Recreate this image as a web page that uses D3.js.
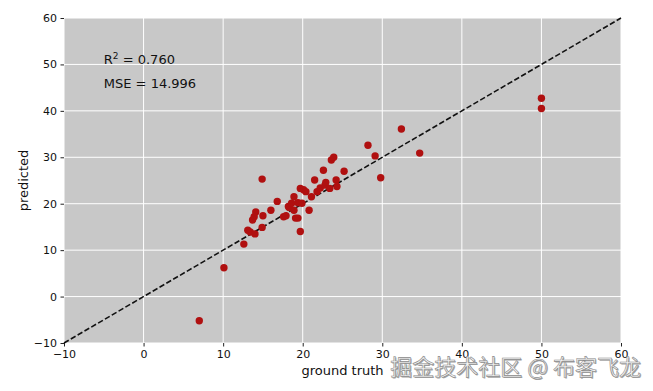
<!DOCTYPE html>
<html>
<head>
<meta charset="utf-8">
<script src="https://cdn.jsdelivr.net/npm/d3@7"></script>
<style>
  body { margin: 0; background: #fff; }
  svg { display: block; font-family: "DejaVu Sans", sans-serif; }
</style>
</head>
<body>
<div id="chart"></div>
<script>
// ground truth vs predicted scatter
const truth = [7.0, 10.1, 12.6, 13.1, 13.4, 14.0, 14.9, 13.7, 13.9, 14.1,
  15.0, 14.9, 16.0, 16.8, 17.6, 17.9, 18.2, 18.3, 18.6, 18.9,
  18.9, 19.1, 19.4, 19.4, 19.7, 19.7, 19.9, 20.1, 20.4, 20.8,
  21.1, 21.5, 21.8, 22.2, 22.6, 22.8, 22.9, 23.4, 23.6, 23.9,
  24.2, 24.3, 25.2, 28.2, 29.1, 29.8, 32.4, 34.7, 50.0, 50.0];
const predicted = [-5.2, 6.2, 11.3, 14.3, 13.9, 13.5, 14.9, 16.5, 17.2, 18.2,
  17.4, 25.3, 18.6, 20.5, 17.2, 17.4, 19.4, 19.2, 20.1, 18.6,
  21.5, 16.9, 16.9, 20.2, 14.0, 23.3, 20.1, 23.0, 22.6, 18.6,
  21.5, 25.1, 22.6, 23.4, 27.2, 24.0, 24.6, 23.3, 29.4, 30.0,
  25.1, 23.7, 27.0, 32.6, 30.3, 25.6, 36.1, 30.9, 42.7, 40.5];
const ticks = [-10, 0, 10, 20, 30, 40, 50, 60];
const statLines = [["R", "2", " = 0.760"], ["MSE", "", " = 14.996"]];
const statPos = [[-5, 50], [-5, 45]];

const W = 653, H = 391;
const margin = { top: 18, right: 32, bottom: 48, left: 64 };
const width = W - margin.left - margin.right;
const height = H - margin.top - margin.bottom;

const svg = d3.select("#chart").append("svg")
  .attr("width", W).attr("height", H);
const g = svg.append("g").attr("transform", `translate(${margin.left},${margin.top})`);

const x = d3.scaleLinear().domain([-10, 60]).range([0, width]);
const y = d3.scaleLinear().domain([-10, 60]).range([height, 0]);

g.append("rect").attr("width", width).attr("height", height).attr("fill", "#c8c8c8");

// grid
g.selectAll("line.gx").data(ticks).join("line").attr("class", "gx")
  .attr("x1", d => x(d)).attr("x2", d => x(d)).attr("y1", 0).attr("y2", height)
  .attr("stroke", "#fff").attr("stroke-width", 1);
g.selectAll("line.gy").data(ticks).join("line").attr("class", "gy")
  .attr("y1", d => y(d)).attr("y2", d => y(d)).attr("x1", 0).attr("x2", width)
  .attr("stroke", "#fff").attr("stroke-width", 1);

// axes
const xAxis = g.append("g").attr("transform", `translate(0,${height})`)
  .call(d3.axisBottom(x).tickValues(ticks).tickSize(3.5).tickPadding(3.5));
const yAxis = g.append("g")
  .call(d3.axisLeft(y).tickValues(ticks).tickSize(3.5).tickPadding(3.5));
[xAxis, yAxis].forEach(a => {
  a.select(".domain").remove();
  a.selectAll(".tick line").attr("stroke", "#222");
  a.selectAll(".tick text").attr("fill", "#111").style("font-size", "11px")
    .style("font-family", "DejaVu Sans, sans-serif");
});

// diagonal y = x
g.append("line")
  .attr("x1", x(-10)).attr("y1", y(-10)).attr("x2", x(60)).attr("y2", y(60))
  .attr("stroke", "#111").attr("stroke-width", 1.6).attr("stroke-dasharray", "5.5,2.4");

// points
g.selectAll("circle").data(truth.map((t, i) => [t, predicted[i]])).join("circle")
  .attr("cx", d => x(d[0])).attr("cy", d => y(d[1])).attr("r", 3.7)
  .attr("fill", "#b01010");

// stats text
statLines.forEach((s, i) => {
  const t = g.append("text").attr("x", x(statPos[i][0])).attr("y", y(statPos[i][1]))
    .attr("fill", "#111").style("font-size", "13px");
  t.append("tspan").text(s[0]);
  if (s[1]) t.append("tspan").attr("dy", -5).style("font-size", "9px").text(s[1]);
  t.append("tspan").attr("dy", s[1] ? 5 : 0).text(s[2]);
});

// axis labels
svg.append("text").attr("x", margin.left + width / 2).attr("y", 375)
  .attr("text-anchor", "middle").attr("fill", "#111").style("font-size", "13px")
  .text("ground truth");
svg.append("text").attr("transform", `translate(28,${margin.top + height / 2}) rotate(-90)`)
  .attr("text-anchor", "middle").attr("fill", "#111").style("font-size", "13px")
  .text("predicted");

// watermark
const wm = "掘金技术社区 @ 布客飞龙";
svg.append("text").attr("x", 641).attr("y", 375).attr("text-anchor", "end")
  .style("font-family", "Noto Sans CJK SC").style("font-size", "22px")
  .attr("fill", "#666").attr("opacity", 0.6).attr("transform", "translate(1,1)").text(wm);
svg.append("text").attr("x", 641).attr("y", 375).attr("text-anchor", "end")
  .style("font-family", "Noto Sans CJK SC").style("font-size", "22px")
  .attr("fill", "#f4f4f4").attr("stroke", "#8a8a8a").attr("stroke-width", 0.6).text(wm);
</script>
</body>
</html>
